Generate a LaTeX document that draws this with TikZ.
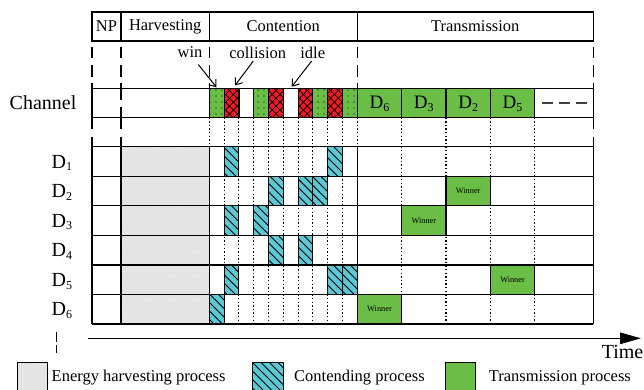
\documentclass[tikz,border=0pt]{standalone}
\usepackage{fontspec}
\setmainfont{Liberation Serif}
\usetikzlibrary{patterns.meta,arrows.meta}
\definecolor{grn}{RGB}{106,189,69}
\definecolor{rd}{RGB}{237,28,36}
\definecolor{cy}{RGB}{92,200,212}
\definecolor{hv}{RGB}{230,230,230}
\newcommand\Dn[1]{D\raisebox{-2.6pt}{\fontsize{12}{12}\selectfont #1}}
\begin{document}
\begin{tikzpicture}[x=1pt,y=-1pt,
  hdr/.style={font=\fontsize{16.5}{18}\selectfont, inner sep=0pt},
  big/.style={font=\fontsize{20}{22}\selectfont, inner sep=0pt},
  gridl/.style={line width=1.3pt},
  dashv/.style={line width=1.2pt, dash pattern=on 11.7pt off 6.7pt},
  dashw/.style={line width=1.2pt, dash pattern=on 11.3pt off 7.7pt},
  dotv/.style={line width=1.1pt, dash pattern=on 1.4pt off 2.2pt},
  winslot/.style={draw=black, line width=1.1pt, preaction={fill=grn}, pattern={Dots[distance=6pt,radius=0.6pt]}, pattern color=black},
  colslot/.style={draw=black, line width=1.1pt, preaction={fill=rd}, pattern={Hatch[angle=45,distance=5.5pt,line width=0.7pt]}, pattern color=black},
  contcell/.style={draw=black, line width=1.1pt, preaction={fill=cy}, pattern={Lines[angle=-45,distance=6pt,line width=0.9pt]}, pattern color=black},
  harvcell/.style={draw=black, line width=1.1pt, preaction={fill=hv}, pattern={Dots[distance=2.4pt,radius=0.35pt]}, pattern color=gray!35},
  wincell/.style={draw=black, line width=1.2pt, fill=grn},
  annarrow/.style={line width=1pt, -{Straight Barb[length=6pt,width=9pt]}}
]
\useasboundingbox (0,0) rectangle (644,390);
\clip (0,0) rectangle (644,390);

% ---------- header ----------
\draw[gridl] (92,12) rectangle (593.3,41);
\foreach \x in {121,209.3,357.3} \draw[gridl] (\x,12) -- (\x,41);
\node[hdr] (hNP) at (106.5,26.5) {NP};
\node[hdr] (hHarv) at (165.2,26.5) {Harvesting};
\node[hdr] (hCont) at (283.3,26.5) {Contention};
\node[hdr] (hTran) at (475.3,26.5) {Transmission};

% dashed guides header -> channel
\foreach \x in {92,121,209.3,357.3,593.3} \draw[dashv] (\x,46.7) -- (\x,88.3);
% dashed guides channel -> grid
\foreach \x in {92,121,593.3} \draw[dashw] (\x,117.7) -- (\x,146.7);
\draw[dashw] (121,88.3) -- (121,117.7);

% dotted slot guides
\foreach \k in {0,...,10} \draw[dotv] ({209.3+\k*14.8},117.7) -- ({209.3+\k*14.8},146.7);
\foreach \k in {1,...,9} \draw[dotv] ({209.3+\k*14.8},146.7) -- ({209.3+\k*14.8},324);
\foreach \k in {1,...,4} \draw[dotv] ({357.3+\k*44.35},117.7) -- ({357.3+\k*44.35},324);

% ---------- channel row ----------
\node[big] (chan) at (43,102.5) {Channel};
\draw[gridl] (92,88.3) rectangle (593.3,117.7);
\foreach \k in {1,4,8,10} \draw[winslot] ({209.3+(\k-1)*14.8},88.3) rectangle ++(14.8,29.4);
\foreach \k in {2,5,7,9} \draw[colslot] ({209.3+(\k-1)*14.8},88.3) rectangle ++(14.8,29.4);
\draw[line width=1.1pt] (239,88.3) -- (239,117.7) (253.7,88.3) -- (253.7,117.7)
  (283.3,88.3) -- (283.3,117.7) (298.1,88.3) -- (298.1,117.7);
\foreach \c/\d in {1/6,2/3,3/2,4/5}
  \draw[wincell] ({357.3+(\c-1)*44.35},88.3) rectangle ++(44.35,29.4)
    node[midway, font=\fontsize{19}{20}\selectfont, inner sep=0pt, yshift=-1pt] (ch\c) {\Dn{\d}};
\coordinate (dsA) at (541.7,103);
\coordinate (dsB) at (588.3,103);
\draw[line width=1.3pt, black!75, dash pattern=on 11.5pt off 5.5pt] (dsA) -- (dsB);

% annotations
\node[hdr] (win) at (190,52.5) {win};
\node[hdr] (coll) at (257.7,52.5) {collision};
\node[hdr] (idle) at (312.7,52.5) {idle};
\coordinate (winA) at (198.3,64.5);
\coordinate (winB) at (216.5,87.3);
\coordinate (colA) at (253.3,61);
\coordinate (colB) at (235,85.5);
\coordinate (idlA) at (311.7,61);
\coordinate (idlB) at (291.7,86.7);
\draw[annarrow] (winA) -- (winB);
\draw[annarrow] (colA) -- (colB);
\draw[annarrow] (idlA) -- (idlB);

% ---------- device grid ----------
\foreach \r in {1,...,6} {
  \draw[harvcell] (121,{146.7+(\r-1)*29.55}) rectangle ++(88.3,29.55);
  \node[big, anchor=base west] (D\r) at (51.5,{146.7+(\r-1)*29.55+21.5}) {\Dn{\r}};
}
\foreach \s/\r in {2/1,9/1,5/2,7/2,8/2,2/3,4/3,5/4,7/4,2/5,9/5,10/5,1/6}
  \draw[contcell] ({209.3+(\s-1)*14.8},{146.7+(\r-1)*29.55}) rectangle ++(14.8,29.55);
\foreach \c/\r in {1/6,2/3,3/2,4/5}
  \draw[wincell] ({357.3+(\c-1)*44.35},{146.7+(\r-1)*29.55}) rectangle ++(44.35,29.55)
    node[midway, font=\fontsize{8.3}{9}\selectfont, inner sep=0pt] (w\c) {Winner};
\foreach \r in {0,...,6} \draw[gridl] (92,{146.7+\r*29.55}) -- (593.3,{146.7+\r*29.55});
\foreach \x in {92,121,209.3,357.3,593.3} \draw[gridl] (\x,146.7) -- (\x,324);

\coordinate (sdA) at (56.7,331.7);
\coordinate (sdB) at (56.7,353);
\draw[line width=1.2pt, dash pattern=on 10pt off 3.4pt] (sdA) -- (sdB);

% time axis
\coordinate (t0) at (88,338.3);
\coordinate (t1) at (641,338.3);
\draw[line width=1.3pt, -{Triangle[length=21pt,width=11.5pt]}] (t0) -- (t1);
\node[big, anchor=base east] (time) at (643.5,358.3) {Time};

% ---------- legend ----------
\draw[harvcell] (17.3,362.5) rectangle (47.2,400);
\node[hdr, anchor=base west] (lg1) at (51.5,381.5) {Energy harvesting process};
\draw[contcell] (252.6,362.5) rectangle (283.4,400);
\node[hdr, anchor=base west] (lg2) at (294,381.5) {Contending process};
\draw[wincell, line width=1.1pt] (445.6,362.5) rectangle (475.6,400);
\node[hdr, anchor=base west] (lg3) at (488.7,381.5) {Transmission process};
\end{tikzpicture}
\end{document}
